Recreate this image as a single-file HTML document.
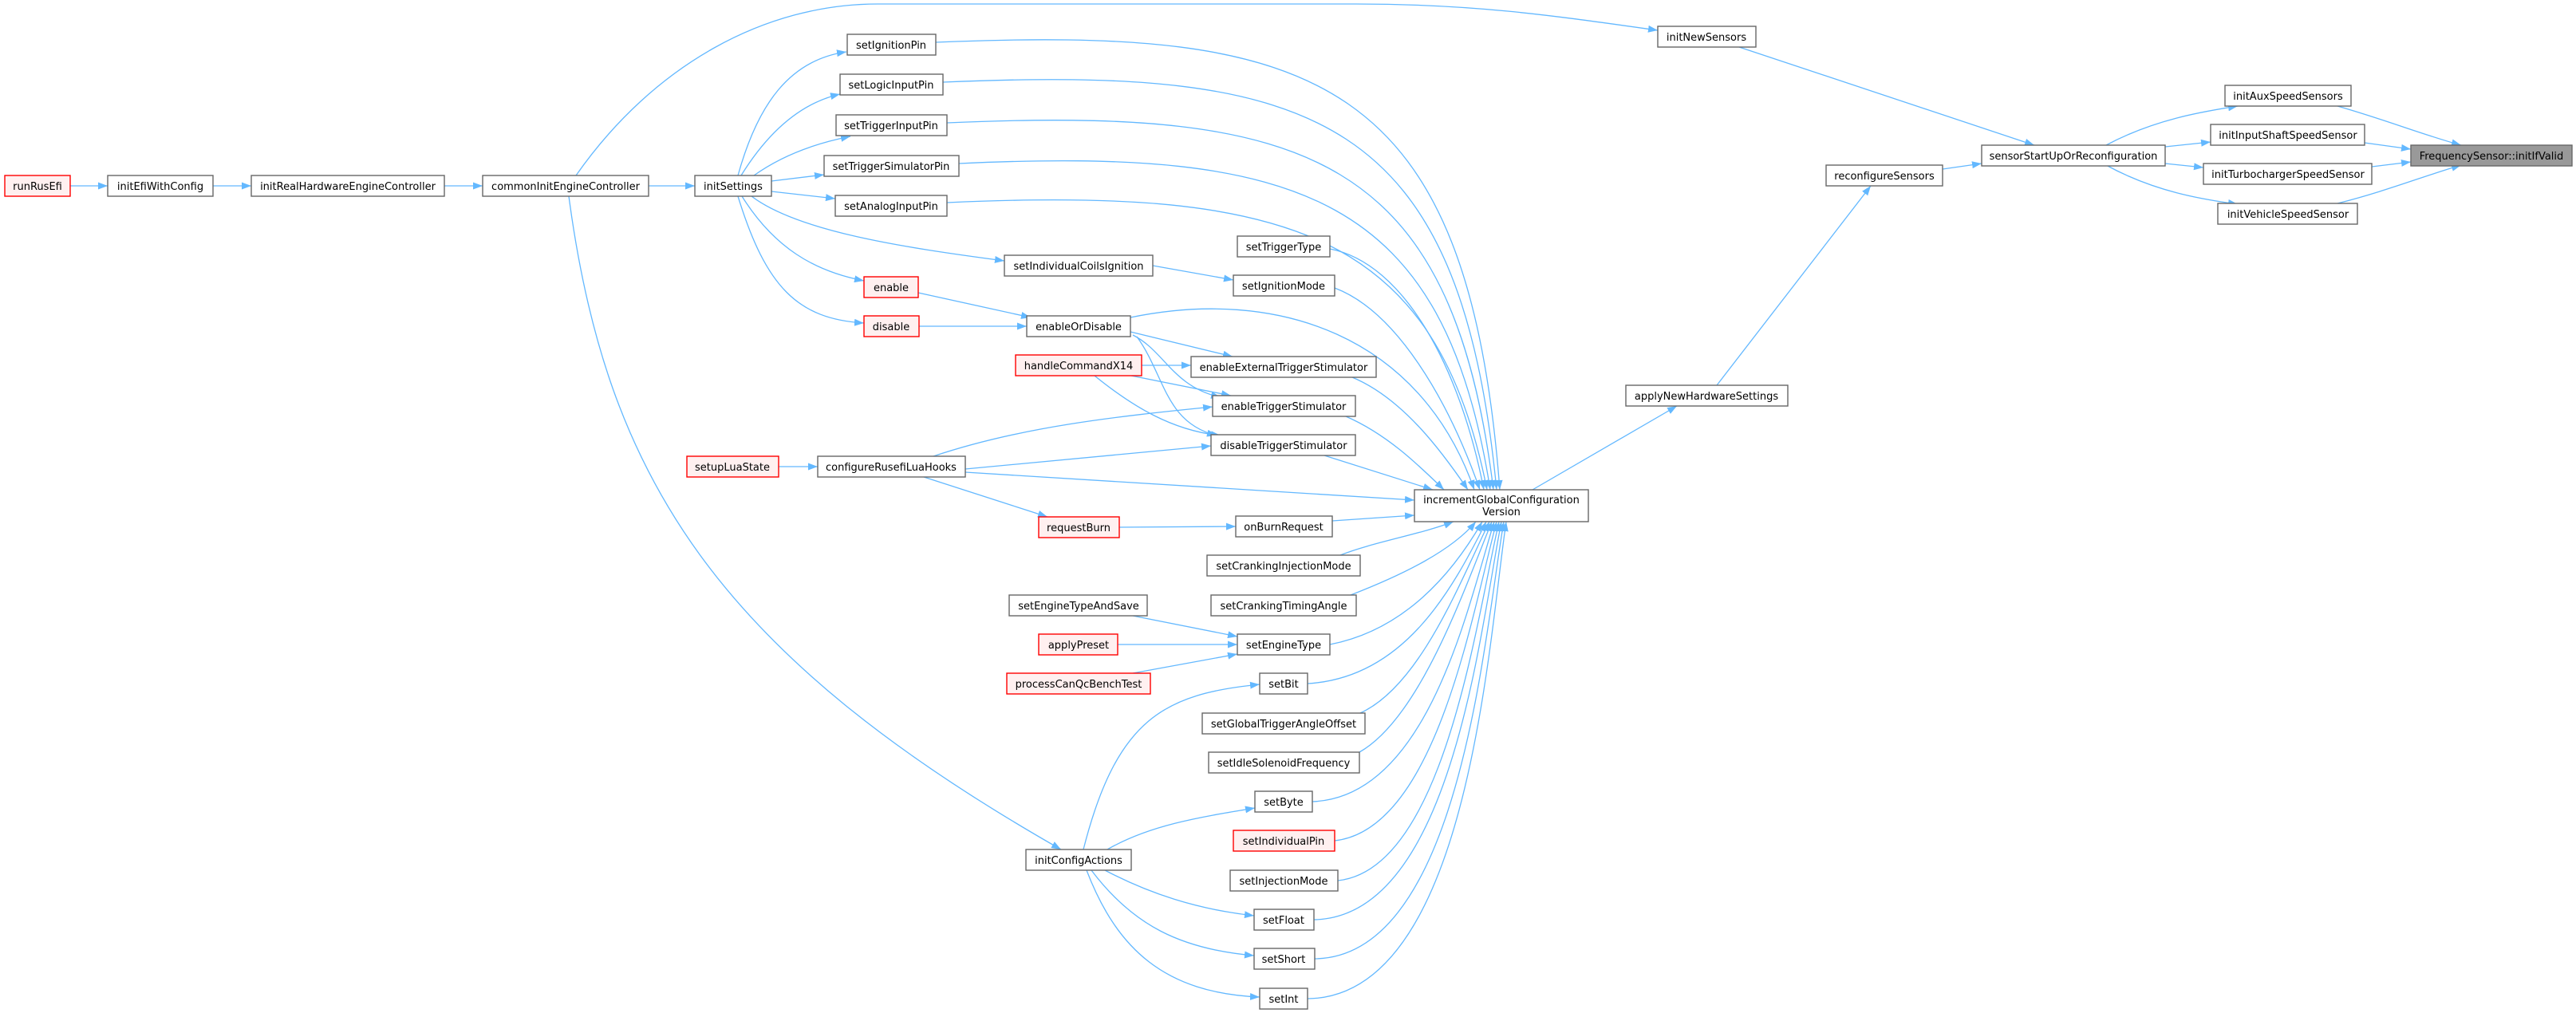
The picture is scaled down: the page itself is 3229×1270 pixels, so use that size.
<!DOCTYPE html>
<html><head><meta charset="utf-8"><style>
html,body{margin:0;padding:0;background:#fff;}
svg{display:block;}
text{font-family:"DejaVu Sans","Liberation Sans",sans-serif;font-size:13px;fill:#000;}
.b{fill:#fff;stroke:#666;stroke-width:1.4;}
.r{fill:#fff0f0;stroke:#ff0000;stroke-width:1.4;}
.g{fill:#999;stroke:#666;stroke-width:1.4;}
path.e{fill:none;stroke:#63b8ff;stroke-width:1.3;marker-end:url(#a);}
</style></head><body>
<svg width="3229" height="1270" viewBox="0 0 3229 1270" xmlns="http://www.w3.org/2000/svg">
<defs><marker id="a" markerUnits="userSpaceOnUse" markerWidth="13" markerHeight="10" refX="12" refY="4.5" orient="auto"><path d="M0,0 L12,4.5 L0,9 z" fill="#63b8ff"/></marker></defs>

<!-- edges -->
<path class="e" d="M88,233 L135,233"/>
<path class="e" d="M267,233 L315,233"/>
<path class="e" d="M557,233 L605,233"/>
<path class="e" d="M813,233 L871,233"/>
<path class="e" d="M722,220 C820,80 960,5 1100,5 L1700,5 C1850,5 1950,20 2078,38"/>
<path class="e" d="M713,246 C760,600 900,820 1330,1065"/>
<path class="e" d="M925,220 C950,130 990,75 1061,65"/>
<path class="e" d="M929,220 C960,170 1000,130 1053,118"/>
<path class="e" d="M945,220 C980,195 1020,180 1066,171"/>
<path class="e" d="M967,227 L1033,219"/>
<path class="e" d="M967,240 L1047,249"/>
<path class="e" d="M942,246 C1000,290 1130,310 1259,327"/>
<path class="e" d="M930,246 C970,310 1020,340 1083,352"/>
<path class="e" d="M925,246 C960,360 1000,400 1083,405"/>

<!-- to incrementGlobal top -->
<path class="e" d="M1173,53 C1650,33 1840,93 1880,614"/>
<path class="e" d="M1182,103 C1650,83 1830,143 1876,614"/>
<path class="e" d="M1187,154 C1640,134 1820,194 1872,614"/>
<path class="e" d="M1202,205 C1630,185 1810,245 1868,614"/>
<path class="e" d="M1187,254 C1620,234 1800,294 1864,614"/>
<path class="e" d="M1667,312 C1760,330 1830,460 1860,614"/>
<path class="e" d="M1673,361 C1750,390 1815,500 1855,614"/>
<path class="e" d="M1417,398 C1600,360 1780,420 1848,614"/>
<path class="e" d="M1695,473 C1760,500 1810,570 1840,614"/>
<path class="e" d="M1687,522 C1740,545 1780,585 1810,614"/>
<path class="e" d="M1660,571 L1796,614"/>
<path class="e" d="M1210,592 L1773,627"/>
<path class="e" d="M1670,653 L1773,646"/>
<!-- to incrementGlobal bottom -->
<path class="e" d="M1680,696 C1720,680 1780,670 1822,654"/>
<path class="e" d="M1693,746 C1760,720 1820,690 1850,654"/>
<path class="e" d="M1667,808 C1760,790 1820,720 1858,654"/>
<path class="e" d="M1639,857 C1760,850 1820,740 1863,654"/>
<path class="e" d="M1705,894 C1780,860 1830,730 1867,654"/>
<path class="e" d="M1704,943 C1780,900 1835,740 1870,654"/>
<path class="e" d="M1645,1005 C1790,1000 1840,760 1873,654"/>
<path class="e" d="M1673,1054 C1800,1040 1845,770 1876,654"/>
<path class="e" d="M1677,1104 C1810,1090 1850,780 1879,654"/>
<path class="e" d="M1647,1153 C1820,1150 1855,790 1882,654"/>
<path class="e" d="M1648,1202 C1830,1200 1860,800 1885,654"/>
<path class="e" d="M1639,1252 C1840,1250 1865,810 1888,654"/>

<path class="e" d="M1445,333 L1546,351"/>
<path class="e" d="M1151,367 L1292,398"/>
<path class="e" d="M1152,409 L1287,409"/>
<path class="e" d="M1417,416 L1545,447"/>
<path class="e" d="M1420,420 C1460,440 1470,485 1530,498"/>
<path class="e" d="M1425,422 C1460,470 1460,530 1525,546"/>
<path class="e" d="M1431,458 L1493,458"/>
<path class="e" d="M1418,471 L1543,496"/>
<path class="e" d="M1372,471 C1420,510 1470,540 1530,546"/>
<path class="e" d="M1170,572 C1280,535 1400,522 1520,510"/>
<path class="e" d="M1210,588 L1518,559"/>
<path class="e" d="M1158,598 L1313,648"/>
<path class="e" d="M976,585 L1025,585"/>
<path class="e" d="M1403,661 L1549,660"/>
<path class="e" d="M1420,772 L1551,798"/>
<path class="e" d="M1401,808 L1551,808"/>
<path class="e" d="M1420,844 L1551,820"/>
<path class="e" d="M1358,1065 C1400,900 1460,870 1579,858"/>
<path class="e" d="M1388,1065 C1440,1035 1500,1025 1573,1013"/>
<path class="e" d="M1385,1091 C1440,1120 1500,1140 1572,1148"/>
<path class="e" d="M1368,1091 C1420,1160 1480,1190 1572,1198"/>
<path class="e" d="M1362,1091 C1400,1190 1460,1245 1579,1250"/>

<path class="e" d="M2180,59 L2550,182"/>
<path class="e" d="M2152,483 L2345,233"/>
<path class="e" d="M1921,614 L2102,509"/>
<path class="e" d="M2435,212 L2484,205"/>
<path class="e" d="M2640,182 C2700,150 2760,140 2805,133"/>
<path class="e" d="M2714,184 L2771,178"/>
<path class="e" d="M2714,205 L2762,210"/>
<path class="e" d="M2640,207 C2700,240 2760,250 2805,256"/>
<path class="e" d="M2930,133 C2990,150 3040,170 3085,182"/>
<path class="e" d="M2964,179 L3022,187"/>
<path class="e" d="M2973,209 L3022,203"/>
<path class="e" d="M2930,255 C2990,240 3040,220 3085,207"/>

<!-- nodes -->
<g text-anchor="middle">
<rect class="r" x="6" y="220" width="82" height="26"/><text x="47" y="238">runRusEfi</text>
<rect class="b" x="135" y="220" width="132" height="26"/><text x="201" y="238">initEfiWithConfig</text>
<rect class="b" x="315" y="220" width="242" height="26"/><text x="436" y="238">initRealHardwareEngineController</text>
<rect class="b" x="605" y="220" width="208" height="26"/><text x="709" y="238">commonInitEngineController</text>
<rect class="b" x="871" y="220" width="96" height="26"/><text x="919" y="238">initSettings</text>
<rect class="r" x="861" y="572" width="115" height="26"/><text x="918" y="590">setupLuaState</text>

<rect class="b" x="1062" y="43" width="111" height="26"/><text x="1117" y="61">setIgnitionPin</text>
<rect class="b" x="1053" y="93" width="129" height="26"/><text x="1117" y="111">setLogicInputPin</text>
<rect class="b" x="1048" y="144" width="139" height="26"/><text x="1117" y="162">setTriggerInputPin</text>
<rect class="b" x="1033" y="195" width="169" height="26"/><text x="1117" y="213">setTriggerSimulatorPin</text>
<rect class="b" x="1047" y="245" width="140" height="26"/><text x="1117" y="263">setAnalogInputPin</text>
<rect class="b" x="1259" y="320" width="186" height="26"/><text x="1352" y="338">setIndividualCoilsIgnition</text>
<rect class="r" x="1083" y="347" width="68" height="26"/><text x="1117" y="365">enable</text>
<rect class="r" x="1083" y="396" width="69" height="26"/><text x="1117" y="414">disable</text>
<rect class="b" x="1287" y="396" width="130" height="26"/><text x="1352" y="414">enableOrDisable</text>
<rect class="r" x="1273" y="445" width="158" height="26"/><text x="1352" y="463">handleCommandX14</text>
<rect class="b" x="1025" y="572" width="185" height="26"/><text x="1117" y="590">configureRusefiLuaHooks</text>
<rect class="r" x="1302" y="648" width="101" height="26"/><text x="1352" y="666">requestBurn</text>
<rect class="b" x="1265" y="746" width="173" height="26"/><text x="1352" y="764">setEngineTypeAndSave</text>
<rect class="r" x="1302" y="795" width="99" height="26"/><text x="1352" y="813">applyPreset</text>
<rect class="r" x="1262" y="844" width="180" height="26"/><text x="1352" y="862">processCanQcBenchTest</text>
<rect class="b" x="1286" y="1065" width="132" height="26"/><text x="1352" y="1083">initConfigActions</text>

<rect class="b" x="1551" y="296" width="116" height="26"/><text x="1609" y="314">setTriggerType</text>
<rect class="b" x="1546" y="345" width="127" height="26"/><text x="1609" y="363">setIgnitionMode</text>
<rect class="b" x="1493" y="447" width="232" height="26"/><text x="1609" y="465">enableExternalTriggerStimulator</text>
<rect class="b" x="1520" y="496" width="179" height="26"/><text x="1609" y="514">enableTriggerStimulator</text>
<rect class="b" x="1518" y="545" width="181" height="26"/><text x="1609" y="563">disableTriggerStimulator</text>
<rect class="b" x="1549" y="647" width="121" height="26"/><text x="1609" y="665">onBurnRequest</text>
<rect class="b" x="1513" y="696" width="192" height="26"/><text x="1609" y="714">setCrankingInjectionMode</text>
<rect class="b" x="1518" y="746" width="182" height="26"/><text x="1609" y="764">setCrankingTimingAngle</text>
<rect class="b" x="1551" y="795" width="116" height="26"/><text x="1609" y="813">setEngineType</text>
<rect class="b" x="1579" y="844" width="60" height="26"/><text x="1609" y="862">setBit</text>
<rect class="b" x="1507" y="894" width="204" height="26"/><text x="1609" y="912">setGlobalTriggerAngleOffset</text>
<rect class="b" x="1515" y="943" width="189" height="26"/><text x="1609" y="961">setIdleSolenoidFrequency</text>
<rect class="b" x="1573" y="992" width="72" height="26"/><text x="1609" y="1010">setByte</text>
<rect class="r" x="1546" y="1041" width="127" height="26"/><text x="1609" y="1059">setIndividualPin</text>
<rect class="b" x="1542" y="1091" width="135" height="26"/><text x="1609" y="1109">setInjectionMode</text>
<rect class="b" x="1572" y="1140" width="75" height="26"/><text x="1609" y="1158">setFloat</text>
<rect class="b" x="1572" y="1189" width="76" height="26"/><text x="1609" y="1207">setShort</text>
<rect class="b" x="1579" y="1239" width="60" height="26"/><text x="1609" y="1257">setInt</text>

<rect class="b" x="1773" y="614" width="218" height="40"/><text x="1882" y="631">incrementGlobalConfiguration</text><text x="1882" y="646">Version</text>
<rect class="b" x="2078" y="33" width="123" height="26"/><text x="2139" y="51">initNewSensors</text>
<rect class="b" x="2038" y="483" width="203" height="26"/><text x="2139" y="501">applyNewHardwareSettings</text>
<rect class="b" x="2289" y="207" width="146" height="26"/><text x="2362" y="225">reconfigureSensors</text>
<rect class="b" x="2484" y="182" width="230" height="26"/><text x="2599" y="200">sensorStartUpOrReconfiguration</text>
<rect class="b" x="2789" y="107" width="158" height="26"/><text x="2868" y="125">initAuxSpeedSensors</text>
<rect class="b" x="2771" y="156" width="193" height="26"/><text x="2868" y="174">initInputShaftSpeedSensor</text>
<rect class="b" x="2762" y="205" width="211" height="26"/><text x="2868" y="223">initTurbochargerSpeedSensor</text>
<rect class="b" x="2780" y="255" width="175" height="26"/><text x="2868" y="273">initVehicleSpeedSensor</text>
<rect class="g" x="3022" y="182" width="202" height="26"/><text x="3123" y="200">FrequencySensor::initIfValid</text>
</g>
</svg>
</body></html>
